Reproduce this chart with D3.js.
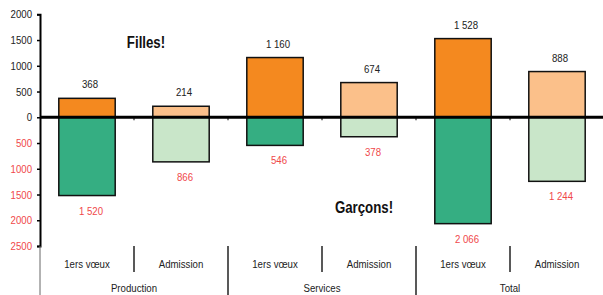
<!DOCTYPE html>
<html>
<head>
<meta charset="utf-8">
<script src="https://cdn.jsdelivr.net/npm/d3@7"></script>
<style>
  body { margin: 0; background: #fff; }
  svg text { font-family: "Liberation Sans", Arial, sans-serif; }
</style>
</head>
<body>
<svg></svg>
<script>
var svg_width = 603;
var svg_height = 295;
var narrow = 0.84;   // the original uses a condensed face

// data
var groups = ["Production", "Services", "Total"];
var stages = ["1ers vœux", "Admission"];
var filles = [368, 214, 1160, 674, 1528, 888];
var garcons = [1520, 866, 546, 378, 2066, 1244];
var y_ticks = [2000, 1500, 1000, 500, 0, -500, -1000, -1500, -2000, -2500];

var bars = [];
groups.forEach(function(g, gi) {
  stages.forEach(function(s, si) {
    var i = gi * stages.length + si;
    bars.push({'id': i, 'group': g, 'stage': s, 'first': si == 0, 'filles': filles[i], 'garcons': garcons[i]});
  });
});

var frNum = d3.formatLocale({decimal: ",", thousands: " ", grouping: [3], currency: ["", " €"]}).format(",d");

var fill_colors = {
  'filles_first': '#f4891f', 'filles_adm': '#fbc08a',
  'garcons_first': '#35ae82', 'garcons_adm': '#c9e6c9'
};

// place a text at (x, y) squeezed horizontally
function place(sel, fx, fy, sx) {
  sel.attr('transform', function(d, i) {
    return 'translate(' + fx(d, i) + ',' + fy(d, i) + ') scale(' + (sx || narrow) + ',1)';
  });
}

var xScale = d3.scaleBand()
  .domain(bars.map(function(d) {return d['id'];}))
  .range([40, 604])
  .paddingInner(0.4)
  .paddingOuter(0.2);

var yScale = d3.scaleLinear().domain([-2500, 2000]).range([246, 14.3]);

var svg = d3.select('svg')
  .attr('width', svg_width)
  .attr('height', svg_height);

// y axis
var yAxis = d3.axisLeft(yScale)
  .tickValues(y_ticks)
  .tickSize(3)
  .tickFormat(function(d) {return Math.abs(d);});

var yG = svg.append('g')
  .attr('transform', 'translate(40,0)')
  .call(yAxis);
yG.select('.domain').attr('stroke', '#000').attr('stroke-width', 2);
yG.selectAll('.tick line').attr('stroke', '#000').attr('stroke-width', 1.5);
yG.selectAll('.tick text')
  .attr('x', -8 / narrow)
  .attr('transform', 'scale(' + narrow + ',1)')
  .attr('font-size', 11.5)
  .attr('fill', function(d) {return d < 0 ? '#f0484a' : '#222';});

// bars
svg.selectAll('rect.filles')
  .data(bars)
  .enter()
  .append('rect')
  .attr('class', 'filles')
  .attr('x', function(d) {return xScale(d['id']);})
  .attr('width', xScale.bandwidth())
  .attr('y', function(d) {return yScale(d['filles']);})
  .attr('height', function(d) {return yScale(0) - yScale(d['filles']);})
  .attr('fill', function(d) {return d['first'] ? fill_colors['filles_first'] : fill_colors['filles_adm'];})
  .attr('stroke', '#111')
  .attr('stroke-width', 1.5);

svg.selectAll('rect.garcons')
  .data(bars)
  .enter()
  .append('rect')
  .attr('class', 'garcons')
  .attr('x', function(d) {return xScale(d['id']);})
  .attr('width', xScale.bandwidth())
  .attr('y', yScale(0))
  .attr('height', function(d) {return yScale(-d['garcons']) - yScale(0);})
  .attr('fill', function(d) {return d['first'] ? fill_colors['garcons_first'] : fill_colors['garcons_adm'];})
  .attr('stroke', '#111')
  .attr('stroke-width', 1.5);

// zero line + small boundary ticks
svg.append('line')
  .attr('x1', 40).attr('x2', svg_width)
  .attr('y1', yScale(0)).attr('y2', yScale(0))
  .attr('stroke', '#000').attr('stroke-width', 3);

var step = xScale.step();
var boundaries = d3.range(0, bars.length + 1).map(function(i) {return 40 + i * step;});

svg.selectAll('line.zt')
  .data(boundaries.slice(1, bars.length))
  .enter()
  .append('line')
  .attr('class', 'zt')
  .attr('x1', function(d) {return d;}).attr('x2', function(d) {return d;})
  .attr('y1', yScale(0)).attr('y2', yScale(0) + 3)
  .attr('stroke', '#000').attr('stroke-width', 1);

// value labels
svg.selectAll('text.vf')
  .data(bars)
  .enter()
  .append('text')
  .attr('class', 'vf')
  .attr('text-anchor', 'middle')
  .attr('font-size', 11.5)
  .attr('fill', '#222')
  .text(function(d) {return frNum(d['filles']);})
  .call(place,
    function(d) {return xScale(d['id']) + xScale.bandwidth() / 2 + 3;},
    function(d) {return yScale(d['filles']) - 10;});

svg.selectAll('text.vg')
  .data(bars)
  .enter()
  .append('text')
  .attr('class', 'vg')
  .attr('text-anchor', 'middle')
  .attr('font-size', 11.5)
  .attr('fill', '#f0484a')
  .text(function(d) {return frNum(d['garcons']);})
  .call(place,
    function(d) {return xScale(d['id']) + xScale.bandwidth() / 2 + 4;},
    function(d) {return yScale(-d['garcons']) + 19;});

// category axis (two levels)
var axis_top = yScale(-2500);
svg.selectAll('line.sep')
  .data(boundaries)
  .enter()
  .append('line')
  .attr('class', 'sep')
  .attr('x1', function(d) {return d;}).attr('x2', function(d) {return d;})
  .attr('y1', axis_top)
  .attr('y2', function(d, i) {return (i % stages.length == 0) ? svg_height : axis_top + 26;})
  .attr('stroke', function(d, i) {return i == 0 ? '#666' : '#222';})
  .attr('stroke-width', function(d, i) {return i == 0 ? 1 : 1.5;});

svg.selectAll('text.stage')
  .data(bars)
  .enter()
  .append('text')
  .attr('class', 'stage')
  .attr('text-anchor', 'middle')
  .attr('font-size', 11.5)
  .attr('fill', '#222')
  .text(function(d) {return d['stage'];})
  .call(place,
    function(d) {return xScale(d['id']) + xScale.bandwidth() / 2;},
    function() {return axis_top + 22;});

svg.selectAll('text.group')
  .data(groups)
  .enter()
  .append('text')
  .attr('class', 'group')
  .attr('text-anchor', 'middle')
  .attr('font-size', 11.5)
  .attr('fill', '#222')
  .text(function(d) {return d;})
  .call(place,
    function(d, i) {return 40 + (i + 0.5) * stages.length * step;},
    function() {return axis_top + 46;});

// series titles
svg.append('text')
  .datum('Filles!')
  .attr('text-anchor', 'middle')
  .attr('font-size', 17).attr('font-weight', 'bold')
  .attr('fill', '#111')
  .text(function(d) {return d;})
  .call(place, function() {return 146;}, function() {return 48;}, 0.78);

svg.append('text')
  .datum('Garçons!')
  .attr('text-anchor', 'middle')
  .attr('font-size', 17).attr('font-weight', 'bold')
  .attr('fill', '#111')
  .text(function(d) {return d;})
  .call(place, function() {return 364;}, function() {return 213;}, 0.78);
</script>
</body>
</html>
